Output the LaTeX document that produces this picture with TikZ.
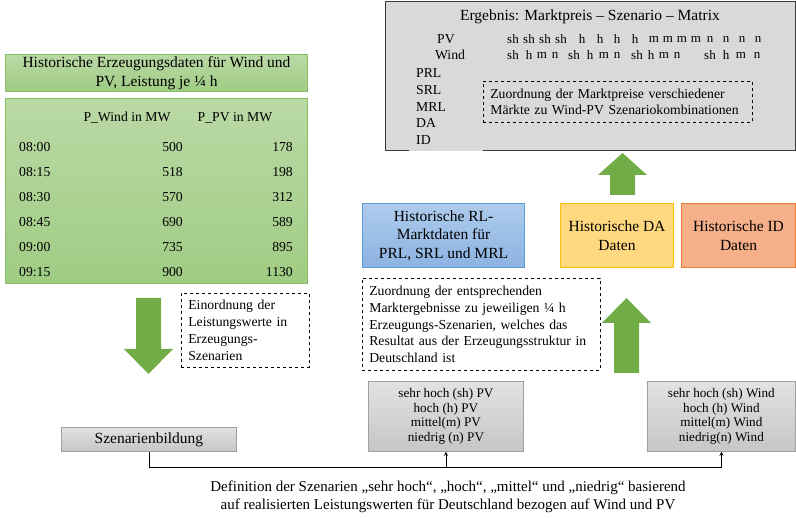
\documentclass[tikz,border=0pt]{standalone}
\usepackage{fontspec}
\setmainfont{Liberation Serif}
\usetikzlibrary{positioning}

\definecolor{gruenhell}{HTML}{BAD9A6}
\definecolor{gruendunkel}{HTML}{9FCC83}
\definecolor{gruenrand}{HTML}{86BF62}
\definecolor{pfeilgruen}{HTML}{70AD47}
\definecolor{grauhell}{HTML}{E2E2E2}
\definecolor{graudunkel}{HTML}{C6C6C6}
\definecolor{graurand}{HTML}{A0A0A0}
\definecolor{matrixgrau}{HTML}{D9D9D9}
\definecolor{matrixrand}{HTML}{3A3A3A}
\definecolor{blauhell}{HTML}{ADCBEC}
\definecolor{blaudunkel}{HTML}{8DB3E2}
\definecolor{blaurand}{HTML}{5B9BD5}
\definecolor{gelbfill}{HTML}{FFD880}
\definecolor{gelbrand}{HTML}{FFC000}
\definecolor{orangefill}{HTML}{F5B08A}
\definecolor{orangerand}{HTML}{ED7D31}

\newcommand{\grossschrift}{\fontsize{15.5}{18.5}\selectfont}
\newcommand{\normalschrift}{\fontsize{13.7}{16.8}\selectfont}
\newcommand{\kleinschrift}{\fontsize{13.2}{14.8}\selectfont}

\begin{document}
\begin{tikzpicture}[%
		x=1pt, y=-1pt,
		->,
		>=stealth,
		gruenbox/.style={%
			draw=gruenrand,
			line width=1pt,
			top color=gruenhell,
			bottom color=gruendunkel,
			anchor=north west,
			inner sep=0pt,
			align=center
		},
		grauknoten/.style={%
			draw=graurand,
			line width=0.8pt,
			top color=grauhell,
			bottom color=graudunkel,
			anchor=north west,
			inner sep=0pt,
			align=center
		},
		marktbox/.style={%
			line width=1pt,
			anchor=north west,
			inner sep=0pt,
			align=center,
			font=\grossschrift
		},
		hinweis/.style={%
			draw,
			dashed,
			line width=0.7pt,
			anchor=north west,
			inner xsep=7pt,
			inner ysep=0pt,
			align=left,
			font=\normalschrift
		},
		eintrag/.style={inner sep=0pt, font=\normalschrift},
		kuerzel/.style={inner sep=0pt, font=\fontsize{13}{16}\selectfont}
		]
		\useasboundingbox (0,0) rectangle (796,518);

		% Erzeugungsdaten links oben
		\node[gruenbox, minimum width=302pt, minimum height=37pt, font=\grossschrift] (titel) at (5,54)
			{Historische Erzeugungsdaten für Wind und\\PV, Leistung je ¼ h};
		\node[gruenbox, minimum width=302pt, minimum height=185pt] (tabelle) at (5,98) {};
		\node[eintrag] (kopfwind) at (127,118) {P\_Wind in MW};
		\node[eintrag] (kopfpv)   at (235,118) {P\_PV in MW};
		\foreach \zeit/\wind/\pv [count=\i] in {08:00/500/178, 08:15/518/198, 08:30/570/312,
				08:45/690/589, 09:00/735/895, 09:15/900/1130} {
			\node[eintrag, anchor=west] (zeit\i) at (19,{147+(\i-1)*25}) {\zeit};
			\node[eintrag, anchor=east] (wind\i) at (183,{147+(\i-1)*25}) {\wind};
			\node[eintrag, anchor=east] (pv\i)   at (293,{147+(\i-1)*25}) {\pv};
		}

		\fill[pfeilgruen] (136,298) -- (161,298) -- (161,349) -- (173,349) -- (148.5,374)
			-- (124,349) -- (136,349) -- cycle;
		\node[hinweis, text width=114pt, minimum height=74pt] (einordnung) at (181,293)
			{Einordnung der\\Leistungswerte in\\Erzeugungs-\\Szenarien};

		% Szenarien
		\node[grauknoten, minimum width=175pt, minimum height=24pt, font=\grossschrift] (szenario) at (61,427)
			{Szenarienbildung};
		\node[grauknoten, minimum width=155pt, minimum height=70pt, font=\kleinschrift] (pvbox) at (368,381)
			{sehr hoch (sh) PV\\hoch (h) PV\\mittel(m) PV\\niedrig (n) PV};
		\node[grauknoten, minimum width=148pt, minimum height=70pt, font=\kleinschrift] (windbox) at (647,381)
			{sehr hoch (sh) Wind\\hoch (h) Wind\\mittel(m) Wind\\niedrig(n) Wind};
		\coordinate (linie) at (0,467);
		\draw[line width=0.8pt] (szenario.south) |- (pvbox.south |- linie) -- (pvbox.south);
		\draw[line width=0.8pt] (pvbox.south |- linie) -| (windbox.south);
		\node[inner sep=0pt, align=center, font=\fontsize{15}{18.5}\selectfont] (definition) at (448,497)
			{Definition der Szenarien „sehr hoch“, „hoch“, „mittel“ und „niedrig“ basierend\\
			auf realisierten Leistungswerten für Deutschland bezogen auf Wind und PV};

		% Marktdaten
		\node[marktbox, draw=blaurand, top color=blauhell, bottom color=blaudunkel,
			minimum width=162pt, minimum height=64pt] (rl) at (362,203)
			{Historische RL-\\Marktdaten für\\PRL, SRL und MRL};
		\node[marktbox, draw=gelbrand, fill=gelbfill, minimum width=113pt, minimum height=64pt] (da) at (560,203)
			{Historische DA\\Daten};
		\node[marktbox, draw=orangerand, fill=orangefill, minimum width=114pt, minimum height=64pt] (id) at (681,203)
			{Historische ID\\Daten};
		\node[hinweis, text width=224pt, minimum height=92pt] (zuordnung) at (362,278)
			{Zuordnung der entsprechenden\\Marktergebnisse zu jeweiligen ¼ h\\Erzeugungs-Szenarien, welches das\\
			Resultat aus der Erzeugungsstruktur in\\Deutschland ist};
		\fill[pfeilgruen] (614,373) -- (639,373) -- (639,323) -- (651,323) -- (626.5,298)
			-- (602,323) -- (614,323) -- cycle;
		\fill[pfeilgruen] (610,195) -- (635,195) -- (635,175) -- (647,175) -- (622.5,153)
			-- (598,175) -- (610,175) -- cycle;

		% Ergebnis-Matrix
		\node[draw=matrixrand, fill=matrixgrau, line width=1pt, anchor=north west, inner sep=0pt,
			minimum width=410pt, minimum height=149pt] (matrix) at (385,1) {};
		\fill[matrixgrau] (409,148.5) rectangle (483,151.5);
		\node[eintrag, font=\grossschrift] (ergebnis) at (590,17) {Ergebnis: Marktpreis – Szenario – Matrix};
		\node[eintrag] (zeilepv)   at (446,39) {PV};
		\node[eintrag] (zeilewind) at (450,55) {Wind};
		\foreach \x/\t in {513/sh, 529/sh, 545/sh, 561/sh, 582/h, 600/h, 617/h, 635/h,
				654/m, 668/m, 682/m, 696/m, 710/n, 726/n, 742/n, 758/n}
			\node[kuerzel] at (\x,39) {\t};
		\foreach \x/\t in {513/sh, 529/h, 542/m, 555/n, 574/sh, 590/h, 604/m, 617/n,
				637/sh, 651/h, 664/m, 677/n, 710/sh, 726/h, 741/m, 757/n}
			\node[kuerzel] at (\x,55) {\t};
		\foreach \markt [count=\i] in {PRL, SRL, MRL, DA, ID}
			\node[eintrag, anchor=west] (markt\i) at (416,{73+(\i-1)*16.8}) {\markt};
		\node[hinweis, text width=255pt, minimum height=41pt] (preise) at (483,81)
			{Zuordnung der Marktpreise verschiedener\\Märkte zu Wind-PV Szenariokombinationen};
\end{tikzpicture}
\end{document}
